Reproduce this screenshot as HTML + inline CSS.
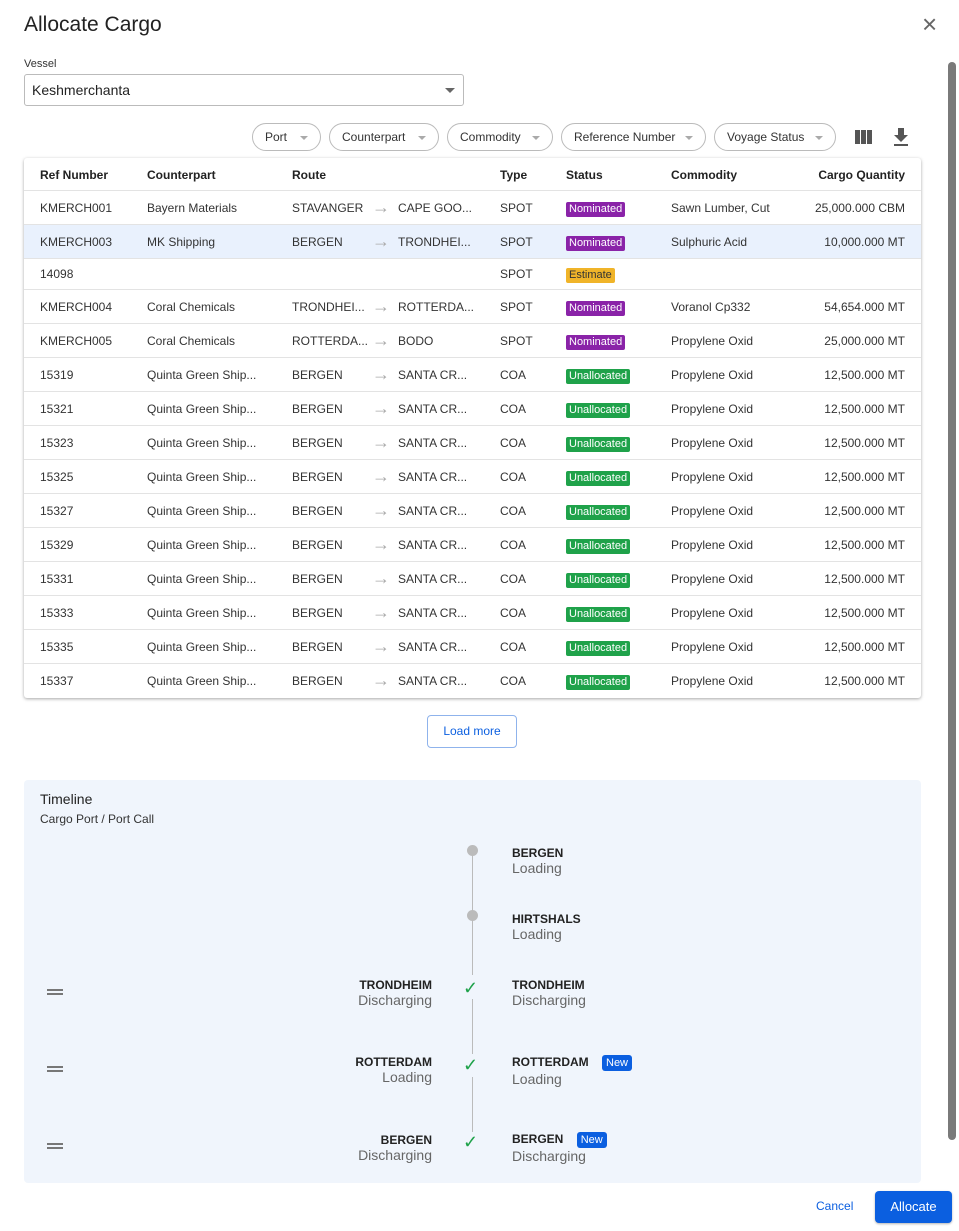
<!DOCTYPE html>
<html><head><meta charset="utf-8">
<style>
*{box-sizing:border-box;margin:0;padding:0}
body{width:959px;height:1231px;background:#fff;font-family:"Liberation Sans",sans-serif;color:#222;position:relative;overflow:hidden}
.a{position:absolute;white-space:nowrap}
.row{position:absolute;left:24px;width:897px;border-bottom:1px solid #e3e3e3;font-size:12px;color:#333}
.row span{position:absolute;top:1px}
.hl{background:#e9f1fd}
.b{display:inline-block;font-style:normal;color:#fff;font-size:11px;line-height:15px;padding:0 3px;border-radius:2px;margin-top:9px}
.nom{background:#8a23a8}.un{background:#1fa24a}.est{background:#f0b429;color:#333}
.chip{position:absolute;top:123px;height:28px;border:1px solid #bbb;border-radius:14px;font-size:12px;line-height:26px;padding-left:12px;color:#333}
.chip i{position:absolute;right:12px;top:12px;width:0;height:0;border-left:4px solid transparent;border-right:4px solid transparent;border-top:4px solid #aaa}
.row span.arr{color:#aaa;font-size:18px;top:0}
.tb{font-size:12px;font-weight:bold;color:#222}
.tl{font-size:14px;color:#666}
.new{display:inline-block;background:#0b5fe0;color:#fff;font-size:11px;line-height:16px;padding:0 4px;border-radius:3px;font-weight:normal}
</style></head><body>
<div class="a" style="left:24px;top:13px;font-size:21px;color:#222">Allocate Cargo</div>
<div class="a" style="left:922px;top:10px;font-size:26px;color:#666;line-height:28px">×</div>
<div class="a" style="left:24px;top:58px;font-size:11px;color:#333">Vessel</div>
<div class="a" style="left:24px;top:74px;width:440px;height:32px;border:1px solid #bbb;border-radius:3px;font-size:14px;line-height:30px;padding-left:7px;color:#222">Keshmerchanta<i style="position:absolute;right:8px;top:13px;border-left:5px solid transparent;border-right:5px solid transparent;border-top:5px solid #666"></i></div>

<div class="chip" style="left:252px;width:69px">Port<i></i></div>
<div class="chip" style="left:329px;width:110px">Counterpart<i></i></div>
<div class="chip" style="left:447px;width:106px">Commodity<i></i></div>
<div class="chip" style="left:561px;width:145px">Reference Number<i></i></div>
<div class="chip" style="left:714px;width:122px">Voyage Status<i></i></div>
<div class="a" style="left:855px;top:130px;width:17px;height:14px;background:repeating-linear-gradient(90deg,#555 0 5px,#fff 5px 6px)"></div>
<div class="a" style="left:894px;top:128px;width:14px;height:18px">
 <div style="position:absolute;left:4px;top:0;width:6px;height:7px;background:#555"></div>
 <div style="position:absolute;left:0;top:7px;border-left:7px solid transparent;border-right:7px solid transparent;border-top:7px solid #555"></div>
 <div style="position:absolute;left:0;top:16px;width:14px;height:2px;background:#555"></div></div>

<div class="a" style="left:24px;top:158px;width:897px;height:540px;box-shadow:0 1px 3px rgba(0,0,0,.35);border-radius:3px"></div>
<div class="row" style="top:158px;height:33px;line-height:32px;font-weight:bold;color:#222"><span style="left:16px">Ref Number</span><span style="left:123px">Counterpart</span><span style="left:268px">Route</span><span style="left:476px">Type</span><span style="left:542px">Status</span><span style="left:647px">Commodity</span><span style="right:16px">Cargo Quantity</span></div>

<div class="row" style="top:191px;height:34px;line-height:33px"><span style="left:16px">KMERCH001</span><span style="left:123px">Bayern Materials</span><span style="left:268px">STAVANGER</span><span class="arr" style="left:348px">→</span><span style="left:374px">CAPE GOO...</span><span style="left:476px">SPOT</span><span style="left:542px"><i class="b nom">Nominated</i></span><span style="left:647px">Sawn Lumber, Cut</span><span style="right:16px">25,000.000 CBM</span></div>
<div class="row hl" style="top:225px;height:34px;line-height:33px"><span style="left:16px">KMERCH003</span><span style="left:123px">MK Shipping</span><span style="left:268px">BERGEN</span><span class="arr" style="left:348px">→</span><span style="left:374px">TRONDHEI...</span><span style="left:476px">SPOT</span><span style="left:542px"><i class="b nom">Nominated</i></span><span style="left:647px">Sulphuric Acid</span><span style="right:16px">10,000.000 MT</span></div>
<div class="row" style="top:259px;height:31px;line-height:29px"><span style="left:16px">14098</span><span style="left:476px">SPOT</span><span style="left:542px"><i class="b est" style="margin-top:7px">Estimate</i></span></div>
<div class="row" style="top:290px;height:34px;line-height:33px"><span style="left:16px">KMERCH004</span><span style="left:123px">Coral Chemicals</span><span style="left:268px">TRONDHEI...</span><span class="arr" style="left:348px">→</span><span style="left:374px">ROTTERDA...</span><span style="left:476px">SPOT</span><span style="left:542px"><i class="b nom">Nominated</i></span><span style="left:647px">Voranol Cp332</span><span style="right:16px">54,654.000 MT</span></div>
<div class="row" style="top:324px;height:34px;line-height:33px"><span style="left:16px">KMERCH005</span><span style="left:123px">Coral Chemicals</span><span style="left:268px">ROTTERDA...</span><span class="arr" style="left:348px">→</span><span style="left:374px">BODO</span><span style="left:476px">SPOT</span><span style="left:542px"><i class="b nom">Nominated</i></span><span style="left:647px">Propylene Oxid</span><span style="right:16px">25,000.000 MT</span></div>
<div class="row" style="top:358px;height:34px;line-height:33px"><span style="left:16px">15319</span><span style="left:123px">Quinta Green Ship...</span><span style="left:268px">BERGEN</span><span class="arr" style="left:348px">→</span><span style="left:374px">SANTA CR...</span><span style="left:476px">COA</span><span style="left:542px"><i class="b un">Unallocated</i></span><span style="left:647px">Propylene Oxid</span><span style="right:16px">12,500.000 MT</span></div>
<div class="row" style="top:392px;height:34px;line-height:33px"><span style="left:16px">15321</span><span style="left:123px">Quinta Green Ship...</span><span style="left:268px">BERGEN</span><span class="arr" style="left:348px">→</span><span style="left:374px">SANTA CR...</span><span style="left:476px">COA</span><span style="left:542px"><i class="b un">Unallocated</i></span><span style="left:647px">Propylene Oxid</span><span style="right:16px">12,500.000 MT</span></div>
<div class="row" style="top:426px;height:34px;line-height:33px"><span style="left:16px">15323</span><span style="left:123px">Quinta Green Ship...</span><span style="left:268px">BERGEN</span><span class="arr" style="left:348px">→</span><span style="left:374px">SANTA CR...</span><span style="left:476px">COA</span><span style="left:542px"><i class="b un">Unallocated</i></span><span style="left:647px">Propylene Oxid</span><span style="right:16px">12,500.000 MT</span></div>
<div class="row" style="top:460px;height:34px;line-height:33px"><span style="left:16px">15325</span><span style="left:123px">Quinta Green Ship...</span><span style="left:268px">BERGEN</span><span class="arr" style="left:348px">→</span><span style="left:374px">SANTA CR...</span><span style="left:476px">COA</span><span style="left:542px"><i class="b un">Unallocated</i></span><span style="left:647px">Propylene Oxid</span><span style="right:16px">12,500.000 MT</span></div>
<div class="row" style="top:494px;height:34px;line-height:33px"><span style="left:16px">15327</span><span style="left:123px">Quinta Green Ship...</span><span style="left:268px">BERGEN</span><span class="arr" style="left:348px">→</span><span style="left:374px">SANTA CR...</span><span style="left:476px">COA</span><span style="left:542px"><i class="b un">Unallocated</i></span><span style="left:647px">Propylene Oxid</span><span style="right:16px">12,500.000 MT</span></div>
<div class="row" style="top:528px;height:34px;line-height:33px"><span style="left:16px">15329</span><span style="left:123px">Quinta Green Ship...</span><span style="left:268px">BERGEN</span><span class="arr" style="left:348px">→</span><span style="left:374px">SANTA CR...</span><span style="left:476px">COA</span><span style="left:542px"><i class="b un">Unallocated</i></span><span style="left:647px">Propylene Oxid</span><span style="right:16px">12,500.000 MT</span></div>
<div class="row" style="top:562px;height:34px;line-height:33px"><span style="left:16px">15331</span><span style="left:123px">Quinta Green Ship...</span><span style="left:268px">BERGEN</span><span class="arr" style="left:348px">→</span><span style="left:374px">SANTA CR...</span><span style="left:476px">COA</span><span style="left:542px"><i class="b un">Unallocated</i></span><span style="left:647px">Propylene Oxid</span><span style="right:16px">12,500.000 MT</span></div>
<div class="row" style="top:596px;height:34px;line-height:33px"><span style="left:16px">15333</span><span style="left:123px">Quinta Green Ship...</span><span style="left:268px">BERGEN</span><span class="arr" style="left:348px">→</span><span style="left:374px">SANTA CR...</span><span style="left:476px">COA</span><span style="left:542px"><i class="b un">Unallocated</i></span><span style="left:647px">Propylene Oxid</span><span style="right:16px">12,500.000 MT</span></div>
<div class="row" style="top:630px;height:34px;line-height:33px"><span style="left:16px">15335</span><span style="left:123px">Quinta Green Ship...</span><span style="left:268px">BERGEN</span><span class="arr" style="left:348px">→</span><span style="left:374px">SANTA CR...</span><span style="left:476px">COA</span><span style="left:542px"><i class="b un">Unallocated</i></span><span style="left:647px">Propylene Oxid</span><span style="right:16px">12,500.000 MT</span></div>
<div class="row" style="top:664px;height:34px;line-height:33px;border-bottom:none"><span style="left:16px">15337</span><span style="left:123px">Quinta Green Ship...</span><span style="left:268px">BERGEN</span><span class="arr" style="left:348px">→</span><span style="left:374px">SANTA CR...</span><span style="left:476px">COA</span><span style="left:542px"><i class="b un">Unallocated</i></span><span style="left:647px">Propylene Oxid</span><span style="right:16px">12,500.000 MT</span></div>

<div class="a" style="left:427px;top:715px;width:90px;height:33px;border:1px solid #8fb3ec;border-radius:4px;font-size:12px;line-height:31px;text-align:center;color:#0b5fe0">Load more</div>

<div class="a" style="left:24px;top:780px;width:897px;height:403px;background:#f0f5fc;border-radius:4px"></div>
<div class="a" style="left:40px;top:791px;font-size:14px;color:#222">Timeline</div>
<div class="a" style="left:40px;top:812px;font-size:12px;color:#333">Cargo Port / Port Call</div>
<div class="a" style="left:472px;top:850px;width:1px;height:125px;background:#bbb"></div>
<div class="a" style="left:472px;top:999px;width:1px;height:55px;background:#bbb"></div>
<div class="a" style="left:472px;top:1077px;width:1px;height:55px;background:#bbb"></div>
<div class="a" style="left:467px;top:845px;width:11px;height:11px;border-radius:50%;background:#bbb"></div>
<div class="a" style="left:467px;top:910px;width:11px;height:11px;border-radius:50%;background:#bbb"></div>
<div class="a" style="left:463px;top:978px;font-size:18px;color:#1fa24a">✓</div>
<div class="a" style="left:463px;top:1055px;font-size:18px;color:#1fa24a">✓</div>
<div class="a" style="left:463px;top:1132px;font-size:18px;color:#1fa24a">✓</div>

<div class="a" style="left:512px;top:846px"><div class="tb">BERGEN</div><div class="tl">Loading</div></div>
<div class="a" style="left:512px;top:912px"><div class="tb">HIRTSHALS</div><div class="tl">Loading</div></div>
<div class="a" style="left:512px;top:978px"><div class="tb">TRONDHEIM</div><div class="tl">Discharging</div></div>
<div class="a" style="left:512px;top:1055px"><div class="tb">ROTTERDAM <span class="new" style="margin-left:10px">New</span></div><div class="tl">Loading</div></div>
<div class="a" style="left:512px;top:1132px"><div class="tb">BERGEN <span class="new" style="margin-left:10px">New</span></div><div class="tl">Discharging</div></div>

<div class="a" style="right:527px;top:978px;text-align:right"><div class="tb">TRONDHEIM</div><div class="tl">Discharging</div></div>
<div class="a" style="right:527px;top:1055px;text-align:right"><div class="tb">ROTTERDAM</div><div class="tl">Loading</div></div>
<div class="a" style="right:527px;top:1133px;text-align:right"><div class="tb">BERGEN</div><div class="tl">Discharging</div></div>

<div class="a" style="left:47px;top:989px;width:16px;height:6px;border-top:2px solid #777;border-bottom:2px solid #777"></div>
<div class="a" style="left:47px;top:1066px;width:16px;height:6px;border-top:2px solid #777;border-bottom:2px solid #777"></div>
<div class="a" style="left:47px;top:1143px;width:16px;height:6px;border-top:2px solid #777;border-bottom:2px solid #777"></div>

<div class="a" style="left:948px;top:62px;width:8px;height:1078px;background:#7a7a7a;border-radius:4px"></div>

<div class="a" style="left:816px;top:1199px;font-size:12px;color:#0b5fe0">Cancel</div>
<div class="a" style="left:875px;top:1191px;width:77px;height:32px;background:#0b5fe0;border-radius:4px;color:#fff;font-size:13px;line-height:32px;text-align:center;box-shadow:0 1px 2px rgba(0,0,0,.3)">Allocate</div>
</body></html>
